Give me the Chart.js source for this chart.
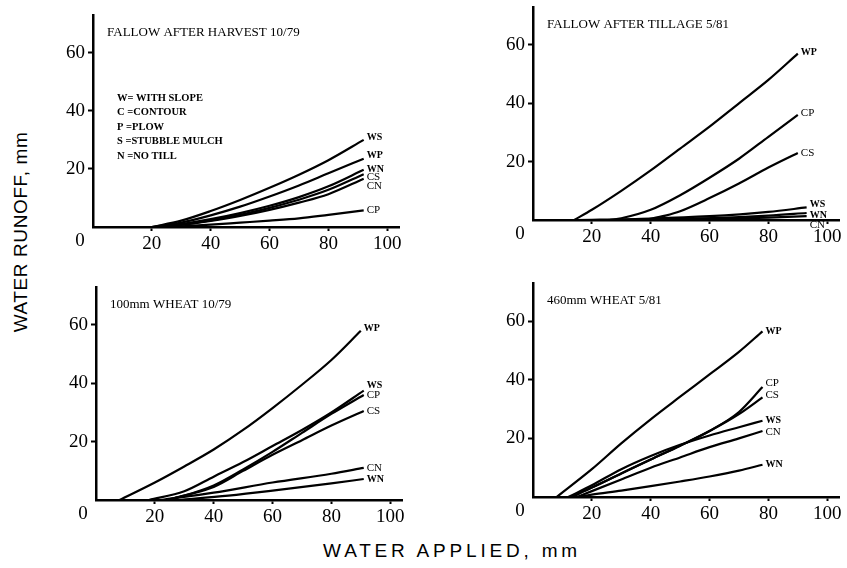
<!DOCTYPE html>
<html>
<head>
<meta charset="utf-8">
<script src="https://cdn.jsdelivr.net/npm/chart.js@4.4.1/dist/chart.umd.min.js"></script>
<style>
  body { margin: 0; background: #fff; width: 847px; height: 568px; position: relative; overflow: hidden; }
  canvas { position: absolute; }
  .axis-title { position: absolute; font: 19px "Liberation Sans", Arial, sans-serif; color: #000; white-space: nowrap; }
  #yTitle { left: 21px; top: 232px; letter-spacing: 0.6px; transform: translate(-50%, -50%) rotate(-90deg); }
  #xTitle { left: 452px; top: 551px; letter-spacing: 3.8px; transform: translate(-50%, -50%); }
</style>
</head>
<body>
<canvas id="p1" width="357" height="245" style="left:48px;top:10px"></canvas>
<canvas id="p2" width="357" height="246" style="left:488px;top:2px"></canvas>
<canvas id="p3" width="357" height="246" style="left:51px;top:282px"></canvas>
<canvas id="p4" width="357" height="247" style="left:488px;top:278px"></canvas>
<div class="axis-title" id="yTitle">WATER RUNOFF, mm</div>
<div class="axis-title" id="xTitle">WATER APPLIED, mm</div>
<script>
const xTicks = [20, 40, 60, 80, 100];
const yTicks = [20, 40, 60];

// each point: [water applied mm, runoff mm]
// FALLOW AFTER HARVEST 10/79
const harvestWS = [[20, 0], [30, 2.2], [40, 5.5], [50, 9.3], [60, 13.5], [70, 18], [80, 23], [92, 30]];
const harvestWP = [[20, 0], [30, 1.5], [40, 4], [50, 7], [60, 10.5], [70, 14.3], [80, 18.5], [92, 23.5]];
const harvestWN = [[22, 0], [30, 1], [40, 2.7], [50, 4.8], [60, 7.3], [70, 10.3], [80, 14], [92, 19.7]];
const harvestCS = [[22, 0], [30, 0.8], [40, 2.3], [50, 4.2], [60, 6.6], [70, 9.4], [80, 12.8], [92, 18.2]];
const harvestCN = [[22, 0], [30, 0.7], [40, 2.1], [50, 3.8], [60, 5.9], [70, 8.4], [80, 11.3], [92, 16.6]];
const harvestCP = [[25, 0], [40, 0.8], [50, 1.5], [60, 2.2], [70, 3], [80, 4.2], [92, 5.7]];

// FALLOW AFTER TILLAGE 5/81
const tillageWP = [[14, 0], [20, 3.5], [30, 10], [40, 17], [50, 24.5], [60, 32], [70, 40], [80, 48], [90, 57]];
const tillageCP = [[26, 0], [30, 0.6], [40, 3.5], [50, 8.5], [60, 14.5], [70, 21], [80, 28.5], [90, 36]];
const tillageCS = [[38, 0], [45, 1.5], [50, 3], [60, 7.5], [70, 12.5], [80, 18], [90, 23]];
const tillageWS = [[14, 0], [40, 0.5], [60, 1.3], [80, 2.8], [93, 4.3]];
const tillageWN = [[25, 0], [50, 0.4], [70, 1], [80, 1.5], [93, 2.4]];
const tillageCN = [[40, 0], [60, 0.3], [80, 0.8], [93, 1.3]];

// 100mm WHEAT 10/79
const wheat100WP = [[8, 0], [20, 6], [30, 11.5], [40, 17.3], [50, 24], [60, 31.5], [70, 39.5], [80, 48], [90, 58]];
const wheat100WS = [[18, 0], [30, 3], [40, 8], [50, 13], [60, 18.5], [70, 24], [80, 30], [91, 37.5]];
const wheat100CP = [[24, 0], [30, 1.5], [40, 5], [50, 10.5], [60, 16.5], [70, 23], [80, 29.5], [91, 36]];
const wheat100CS = [[24, 0], [30, 1.5], [40, 4.5], [50, 10], [60, 15.5], [70, 20.5], [80, 25.5], [91, 30.5]];
const wheat100CN = [[22, 0], [40, 2.5], [60, 6], [80, 9], [91, 11]];
const wheat100WN = [[28, 0], [45, 1.5], [60, 3.2], [80, 5.7], [91, 7.2]];

// 460mm WHEAT 5/81
const wheat460WP = [[8, 0], [20, 9.5], [30, 18.3], [40, 26.5], [50, 34.2], [60, 41.8], [70, 49.5], [78, 56.5]];
const wheat460CP = [[13, 0], [20, 3.2], [30, 8], [40, 12.8], [50, 17.5], [60, 22.5], [70, 29], [78, 37.5]];
const wheat460CS = [[13, 0], [20, 3.2], [30, 8], [40, 12.8], [50, 17.5], [60, 22.5], [70, 28.3], [78, 34]];
const wheat460WS = [[12, 0], [20, 4], [30, 9.5], [40, 14], [50, 17.8], [60, 21], [70, 23.8], [78, 26]];
const wheat460CN = [[15, 0], [20, 2], [30, 6], [40, 10], [50, 13.5], [60, 17], [70, 20], [78, 22.5]];
const wheat460WN = [[15, 0], [20, 0.8], [30, 2.2], [40, 3.7], [50, 5.3], [60, 7], [70, 9], [78, 11]];

const legendLines = ["W= WITH SLOPE", "C =CONTOUR", "P =PLOW", "S =STUBBLE MULCH", "N =NO TILL"];

const panels = [
  { id: "p1", title: "FALLOW AFTER HARVEST 10/79", legend: true,
    series: { WS: harvestWS, WP: harvestWP, WN: harvestWN, CS: harvestCS, CN: harvestCN, CP: harvestCP },
    shift: { WS: -2, WP: -3, WN: 0, CS: 3, CN: 7, CP: 0 } },
  { id: "p2", title: "FALLOW AFTER TILLAGE 5/81",
    series: { WP: tillageWP, CP: tillageCP, CS: tillageCS, WS: tillageWS, WN: tillageWN, CN: tillageCN },
    shift: { WP: -1, CP: -2, CS: 0, WS: -3, WN: 2, CN: 9 } },
  { id: "p3", title: "100mm WHEAT 10/79",
    series: { WP: wheat100WP, WS: wheat100WS, CP: wheat100CP, CS: wheat100CS, CN: wheat100CN, WN: wheat100WN },
    shift: { WP: -2, WS: -5, CP: 0, CS: 0, CN: 0, WN: 0 } },
  { id: "p4", title: "460mm WHEAT 5/81",
    series: { WP: wheat460WP, CP: wheat460CP, CS: wheat460CS, WS: wheat460WS, CN: wheat460CN, WN: wheat460WN },
    shift: { WP: 0, CP: -4, CS: -2, WS: 0, CN: 1, WN: 0 } }
];

const serif = '"Liberation Serif", "Times New Roman", serif';

// titles, origin "0", curve end labels and the key in the first panel
const panelText = {
  id: "panelText",
  afterDraw(chart, args, opts) {
    const { ctx, chartArea, scales: { x, y } } = chart;
    ctx.save();
    ctx.fillStyle = "#000";
    ctx.font = "13px " + serif;
    ctx.textAlign = "left";
    ctx.textBaseline = "alphabetic";
    ctx.fillText(opts.title, chartArea.left + 14, chartArea.top + 21);

    ctx.font = "19px " + serif;
    ctx.textAlign = "center";
    ctx.textBaseline = "middle";
    ctx.fillText("0", x.getPixelForValue(0) - 13, chartArea.bottom + 14);

    ctx.textAlign = "left";
    chart.data.datasets.forEach(ds => {
      const last = ds.data[ds.data.length - 1];
      const px = x.getPixelForValue(last.x);
      const py = y.getPixelForValue(last.y);
      ctx.font = (ds.label[0] === "W" ? "bold 10px " : "11px ") + serif;
      ctx.fillText(ds.label, px + 3, py + (opts.shift[ds.label] || 0));
    });

    if (opts.legend) {
      ctx.font = "bold 10.5px " + serif;
      legendLines.forEach((t, i) => {
        ctx.fillText(t, chartArea.left + 24, chartArea.top + 83 + i * 14.5);
      });
    }
    ctx.restore();
  }
};

panels.forEach(p => {
  new Chart(document.getElementById(p.id), {
    type: "line",
    data: {
      datasets: Object.entries(p.series).map(([name, pts]) => ({
        label: name,
        data: pts.map(([x, y]) => ({ x, y })),
        borderColor: "#000",
        borderWidth: 2.2,
        pointRadius: 0,
        fill: false,
        cubicInterpolationMode: "monotone"
      }))
    },
    options: {
      responsive: false,
      animation: false,
      layout: { padding: { top: 5, right: 6, left: 0, bottom: 0 } },
      plugins: {
        legend: { display: false },
        tooltip: { enabled: false },
        panelText: { title: p.title, legend: !!p.legend, shift: p.shift }
      },
      scales: {
        x: {
          type: "linear",
          min: 0,
          max: 104,
          afterBuildTicks: s => { s.ticks = xTicks.map(v => ({ value: v })); },
          afterFit: s => { s.height = 28; s.paddingLeft = 0; s.paddingRight = 0; },
          grid: { drawOnChartArea: false, tickLength: 4, tickColor: "#000", tickWidth: 2 },
          border: { color: "#000", width: 2.5 },
          ticks: { color: "#000", font: { family: serif, size: 19 }, padding: 2, maxRotation: 0 }
        },
        y: {
          min: 0,
          max: 73,
          afterBuildTicks: s => { s.ticks = yTicks.map(v => ({ value: v })); },
          afterFit: s => { s.width = 45; s.paddingTop = 0; s.paddingBottom = 0; },
          grid: { drawOnChartArea: false, tickLength: 5, tickColor: "#000", tickWidth: 2 },
          border: { color: "#000", width: 2.5 },
          ticks: { color: "#000", font: { family: serif, size: 19 }, padding: 3 }
        }
      }
    },
    plugins: [panelText]
  });
});
</script>
</body>
</html>
